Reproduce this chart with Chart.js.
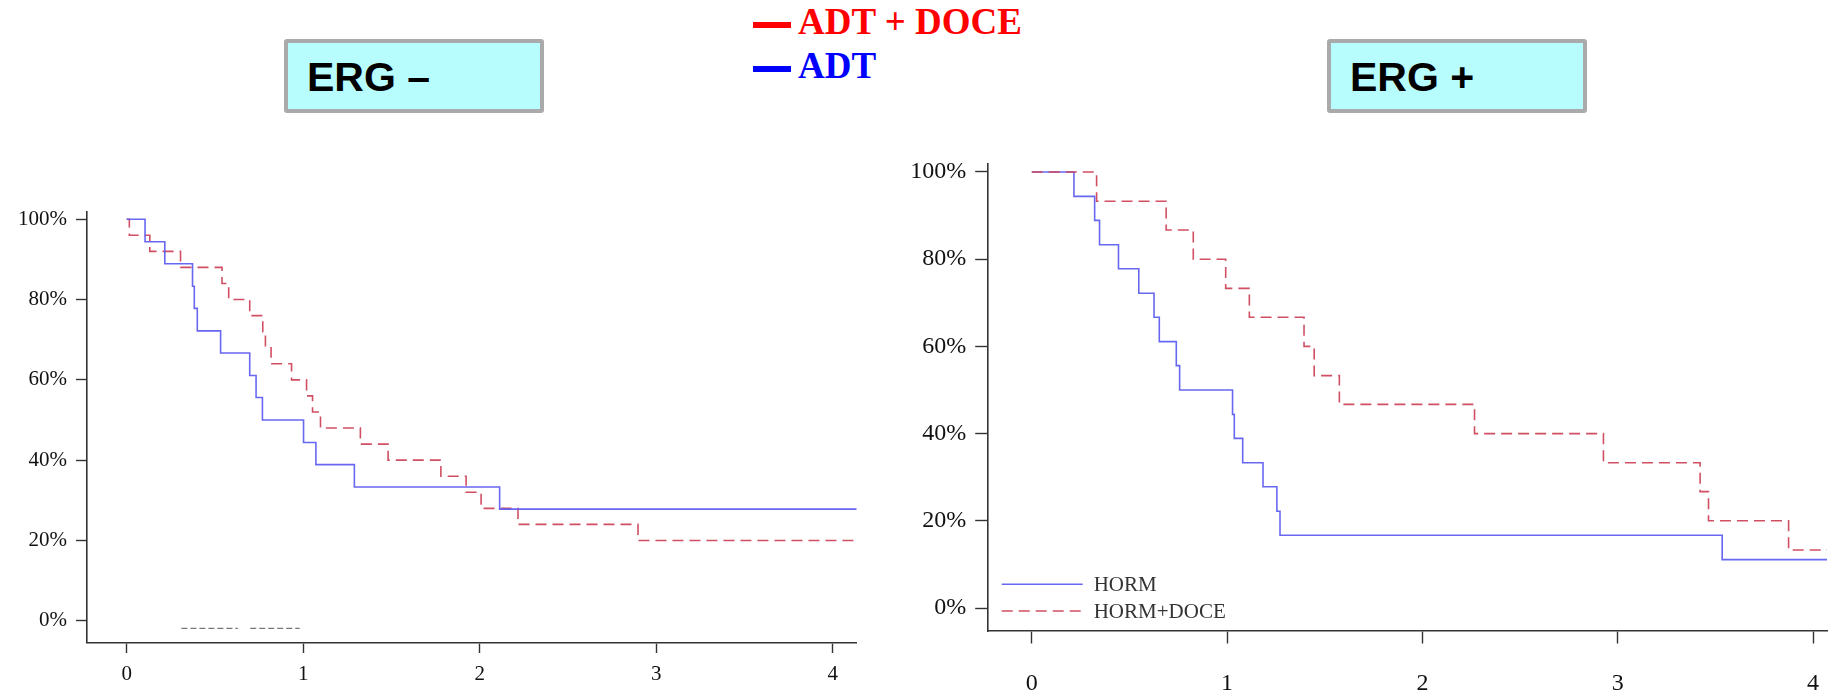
<!DOCTYPE html>
<html>
<head>
<meta charset="utf-8">
<script src="https://cdn.jsdelivr.net/npm/chart.js@4.4.1/dist/chart.umd.min.js"></script>
<style>
  html, body { margin: 0; padding: 0; background: #fff; }
  body { width: 1845px; height: 695px; position: relative; overflow: hidden; }
  canvas { position: absolute; }
  .erg { position: absolute; top: 39px; width: 252px; height: 66px; border: 4px solid #aaa;
         border-radius: 3px; background: #b8fdfd; }
  .erg-text { position: absolute; top: 57px; font: bold 41px/41px "Liberation Sans", Arial, sans-serif; color: #000; white-space: pre; }
  .key-dash { position: absolute; left: 753px; width: 38px; height: 6px; }
  .key-text { position: absolute; left: 798px; font: bold 37px/37px "Liberation Serif", "Times New Roman", serif; white-space: pre; }
</style>
</head>
<body>
<div class="erg" style="left:284px"></div>
<div class="erg-text" style="left:307px">ERG –</div>
<div class="erg" style="left:1327px"></div>
<div class="erg-text" style="left:1350px">ERG +</div>

<div class="key-dash" style="top:22px;background:#ff0000"></div>
<div class="key-text" style="top:3px;color:#ff0000">ADT + DOCE</div>
<div class="key-dash" style="top:66px;background:#0000ff"></div>
<div class="key-text" style="top:47px;color:#0000ff">ADT</div>

<canvas id="ergNeg" width="870" height="505" style="left:0;top:190px"></canvas>
<canvas id="ergPos" width="955" height="555" style="left:890px;top:140px"></canvas>

<script>
// ---- data (years, % surviving) ----
const xTicks = [0, 1, 2, 3, 4];
const yTicks = [0, 20, 40, 60, 80, 100];

// ERG negative panel
const negAdtTimes = [0, 0.104, 0.216, 0.373, 0.383, 0.40, 0.532, 0.697, 0.733, 0.769, 1.002, 1.072, 1.29, 2.113, 4.136];
const negAdtSurv  = [100, 94.4, 88.9, 83.3, 77.8, 72.2, 66.7, 61.1, 55.6, 50, 44.4, 38.9, 33.3, 27.8, 27.8];
const negDoceTimes = [0, 0.015, 0.131, 0.305, 0.54, 0.578, 0.697, 0.771, 0.786, 0.818, 0.934, 1.019, 1.053, 1.098, 1.324, 1.481, 1.78, 1.923, 2.008, 2.217, 2.897, 4.136];
const negDoceSurv  = [100, 96, 92, 88, 84, 80, 76, 72, 68, 64, 60, 56, 52, 48, 44, 40, 36, 32, 28, 24, 20, 20];
const negMarkTimes = [0.31, 0.63, 0.665, 0.70, 0.98];
const negMarkSurv  = [-1.9, -1.9, null, -1.9, -1.9];

// ERG positive panel
const posHormTimes = [0, 0.216, 0.322, 0.347, 0.444, 0.548, 0.626, 0.653, 0.74, 0.757, 1.028, 1.037, 1.08, 1.184, 1.255, 1.271, 3.535, 4.072];
const posHormSurv  = [100, 94.4, 88.9, 83.3, 77.8, 72.2, 66.7, 61.1, 55.6, 50, 44.4, 38.9, 33.3, 27.8, 22.2, 16.7, 11.1, 11.1];
const posDoceTimes = [0, 0.332, 0.688, 0.827, 0.993, 1.114, 1.394, 1.446, 1.575, 2.267, 2.927, 3.422, 3.465, 3.875, 4.072];
const posDoceSurv  = [100, 93.3, 86.7, 80, 73.3, 66.7, 60, 53.3, 46.7, 40, 33.3, 26.7, 20, 13.3, 13.3];

const legendLabels = ['HORM', 'HORM+DOCE'];

// ---- styling ----
const BLUE = 'rgba(95, 95, 240, 0.95)';
const RED = 'rgba(205, 70, 90, 0.95)';
const AXIS = '#333';
const SERIF = '"Liberation Serif", "Times New Roman", serif';

const toPoints = (xs, ys) => xs.map((x, i) => ({ x: x, y: ys[i] }));

function kmLine(label, xs, ys, color, dash) {
  return {
    label: label,
    data: toPoints(xs, ys),
    borderColor: color,
    borderWidth: 1.6,
    borderDash: dash,
    stepped: true,
    pointRadius: 0,
    fill: false
  };
}

// draws the little in-plot legend (bottom left)
const insetLegend = {
  id: 'insetLegend',
  afterDatasetsDraw(chart, args, opts) {
    if (!opts.show) return;
    const ctx = chart.ctx;
    const area = chart.chartArea;
    const x0 = area.left + 14, x1 = area.left + 95;
    opts.items.forEach((item, i) => {
      const ds = chart.data.datasets[item];
      const y = area.bottom - 46.7 + i * 26.7;
      ctx.save();
      ctx.strokeStyle = ds.borderColor;
      ctx.lineWidth = ds.borderWidth;
      ctx.setLineDash(ds.borderDash || []);
      ctx.beginPath();
      ctx.moveTo(x0, y);
      ctx.lineTo(x1, y);
      ctx.stroke();
      ctx.setLineDash([]);
      ctx.fillStyle = '#333';
      ctx.font = '21px ' + SERIF;
      ctx.textBaseline = 'middle';
      ctx.fillText(legendLabels[i], area.left + 106, y + 1);
      ctx.restore();
    });
  }
};

function makeChart(id, datasets, o) {
  const canvas = document.getElementById(id);
  return new Chart(canvas.getContext('2d'), {
    type: 'line',
    data: { datasets: datasets },
    options: {
      responsive: false,
      animation: false,
      events: [],
      layout: { padding: { top: o.padTop, right: o.padRight, left: 0, bottom: 0 } },
      scales: {
        x: {
          type: 'linear',
          min: o.xMin, max: o.xMax,
          afterBuildTicks: s => { s.ticks = xTicks.map(v => ({ value: v })); },
          afterFit: s => { s.height = o.xAxisHeight; },
          border: { display: true, color: AXIS, width: 1.6 },
          grid: { drawOnChartArea: false, drawTicks: true, tickLength: o.tickLen, tickColor: AXIS, tickWidth: 1.4 },
          ticks: { color: '#111', padding: o.xPad, maxRotation: 0, font: { family: SERIF, size: o.fontSize } }
        },
        y: {
          type: 'linear',
          min: o.yMin, max: o.yMax,
          afterBuildTicks: s => { s.ticks = yTicks.map(v => ({ value: v })); },
          afterFit: s => { s.width = o.yAxisWidth; },
          border: { display: true, color: AXIS, width: 1.6 },
          grid: { drawOnChartArea: false, drawTicks: true, tickLength: o.tickLen, tickColor: AXIS, tickWidth: 1.4 },
          ticks: { color: '#111', padding: 9, font: { family: SERIF, size: o.fontSize }, callback: v => v + '%' }
        }
      },
      plugins: {
        legend: { display: false },
        tooltip: { enabled: false },
        insetLegend: { show: o.legend, items: o.legendItems || [] }
      }
    },
    plugins: [insetLegend]
  });
}

makeChart('ergNeg', [
  kmLine('ADT', negAdtTimes, negAdtSurv, BLUE, []),
  kmLine('ADT+DOCE', negDoceTimes, negDoceSurv, RED, [11, 6]),
  {
    label: 'marks',
    data: toPoints(negMarkTimes, negMarkSurv),
    borderColor: '#777', borderWidth: 1.2, borderDash: [6, 3],
    pointRadius: 0, spanGaps: false, fill: false
  }
], {
  xMin: -0.2266, xMax: 4.136, yMin: -5.36, yMax: 101.9,
  padTop: 20, padRight: 13.3, yAxisWidth: 86.7, xAxisHeight: 52.7,
  tickLen: 10.7, xPad: 9, fontSize: 21, legend: false
});

makeChart('ergPos', [
  kmLine('HORM+DOCE', posDoceTimes, posDoceSurv, RED, [11, 6]),
  kmLine('HORM', posHormTimes, posHormSurv, BLUE, [])
], {
  xMin: -0.2256, xMax: 4.072, yMin: -5.27, yMax: 101.97,
  padTop: 16.7, padRight: 0, yAxisWidth: 97.7, xAxisHeight: 64,
  tickLen: 12.5, xPad: 26, fontSize: 24, legend: true, legendItems: [1, 0]
});
</script>
</body>
</html>
